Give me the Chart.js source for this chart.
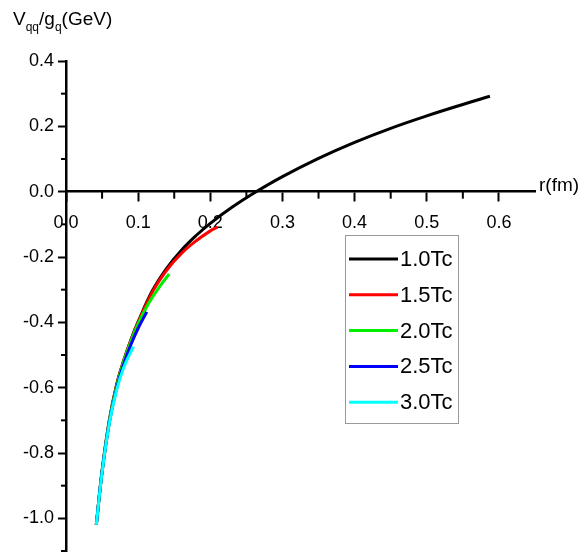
<!DOCTYPE html>
<html>
<head>
<meta charset="utf-8">
<script src="https://cdn.jsdelivr.net/npm/chart.js@4.4.1/dist/chart.umd.min.js"></script>
<style>
  body { margin: 0; background: #fff; }
  #wrap { position: relative; width: 583px; height: 552px; font-family: 'Liberation Sans', Arial, sans-serif; }
  #myChart { display: block; }
  .lbl { position: absolute; color: #000; white-space: nowrap; line-height: 1; }
  .lbl sub { font-size: 12px; vertical-align: -6px; line-height: 0; }
</style>
</head>
<body>
<div id="wrap">
  <canvas id="myChart" width="583" height="552"></canvas>
  <div class="lbl" style="left:13px;top:9px;font-size:19px;">V<sub>qq</sub>/g<sub>q</sub>(GeV)</div>
  <div class="lbl" style="left:539px;top:175px;font-size:19px;">r(fm)</div>
</div>
<script>
// potential curves V(r) for each temperature (r in fm, V in GeV)
const seriesLabels = ['1.0Tc', '1.5Tc', '2.0Tc', '2.5Tc', '3.0Tc'];
const seriesColors = ['#000000', '#ff0000', '#00ee00', '#0000ff', '#00ffff'];

const r10 = [0.042, 0.05, 0.06, 0.07, 0.08, 0.09, 0.10, 0.12, 0.14, 0.16, 0.18, 0.20, 0.23, 0.26, 0.30, 0.35, 0.40, 0.45, 0.50, 0.55, 0.5875];
const v10 = [-1.02, -0.855, -0.70, -0.592, -0.517, -0.453, -0.398, -0.302, -0.233, -0.179, -0.135, -0.097, -0.048, -0.005, 0.046, 0.102, 0.151, 0.194, 0.232, 0.267, 0.292];

const r15 = [0.042, 0.05, 0.06, 0.07, 0.08, 0.09, 0.10, 0.12, 0.14, 0.16, 0.18, 0.20, 0.21];
const v15 = [-1.02, -0.856, -0.702, -0.595, -0.518, -0.455, -0.40, -0.306, -0.239, -0.189, -0.151, -0.12, -0.108];

const r20 = [0.042, 0.05, 0.06, 0.07, 0.08, 0.09, 0.10, 0.115, 0.13, 0.143];
const v20 = [-1.02, -0.857, -0.704, -0.598, -0.52, -0.458, -0.404, -0.34, -0.29, -0.252];

const r25 = [0.042, 0.05, 0.06, 0.07, 0.08, 0.09, 0.10, 0.112];
const v25 = [-1.02, -0.858, -0.708, -0.604, -0.528, -0.468, -0.418, -0.368];

const r30 = [0.042, 0.05, 0.06, 0.07, 0.08, 0.0935];
const v30 = [-1.02, -0.86, -0.71, -0.608, -0.538, -0.474];

// tick positions
const xMajorTicks = [0, 0.1, 0.2, 0.3, 0.4, 0.5, 0.6];
const xMinorTicks = [0.05, 0.15, 0.25, 0.35, 0.45, 0.55];
const yMajorTicks = [-1.0, -0.8, -0.6, -0.4, -0.2, 0, 0.2, 0.4];
const yMinorTicks = [-1.1, -0.9, -0.7, -0.5, -0.3, -0.1, 0.1, 0.3];

function toPoints(rs, vs) {
    return rs.map((r, i) => ({ x: r, y: vs[i] }));
}

const allR = [r10, r15, r20, r25, r30];
const allV = [v10, v15, v20, v25, v30];

const datasets = seriesLabels.map((label, i) => ({
    label: label,
    data: toPoints(allR[i], allV[i]),
    borderColor: seriesColors[i],
    backgroundColor: seriesColors[i],
    borderWidth: 3,
    pointRadius: 0,
    fill: false,
    tension: 0.4,
    order: seriesLabels.length - i   // later series on top
}));

// minor ticks + boxed legend
const extras = {
    id: 'extras',
    afterDraw(chart) {
        const ctx = chart.ctx;
        const xs = chart.scales.x, ys = chart.scales.y;
        const y0 = ys.getPixelForValue(0);
        ctx.save();
        ctx.strokeStyle = '#000';
        ctx.lineWidth = 2;
        xMinorTicks.forEach(v => {
            const px = xs.getPixelForValue(v);
            ctx.beginPath(); ctx.moveTo(px, y0); ctx.lineTo(px, y0 + 7); ctx.stroke();
        });
        yMinorTicks.forEach(v => {
            const py = ys.getPixelForValue(v);
            ctx.beginPath(); ctx.moveTo(chart.chartArea.left, py); ctx.lineTo(chart.chartArea.left - 5, py); ctx.stroke();
        });

        // legend box
        const bx = 345, by = 235, bw = 113, bh = 188;
        ctx.fillStyle = '#fff';
        ctx.fillRect(bx, by, bw, bh);
        ctx.strokeStyle = '#9a9a9a';
        ctx.lineWidth = 1;
        ctx.strokeRect(bx + 0.5, by + 0.5, bw, bh);
        ctx.font = "22px 'Liberation Sans', Arial, sans-serif";
        ctx.textBaseline = 'middle';
        ctx.textAlign = 'left';
        chart.data.datasets.forEach((ds, i) => {
            const ry = 259 + i * 35.8;
            ctx.strokeStyle = ds.borderColor;
            ctx.lineWidth = 3;
            ctx.beginPath(); ctx.moveTo(349, ry); ctx.lineTo(398, ry); ctx.stroke();
            ctx.fillStyle = '#000';
            ctx.fillText(ds.label, 400, ry + 1);
        });
        ctx.restore();
    }
};

const ctx = document.getElementById('myChart').getContext('2d');
const myChart = new Chart(ctx, {
    type: 'line',
    data: { datasets: datasets },
    plugins: [extras],
    options: {
        responsive: false,
        animation: false,
        devicePixelRatio: 1,
        layout: { padding: { top: 61, right: 48, left: 0, bottom: 0 } },
        plugins: {
            legend: { display: false },
            tooltip: { enabled: false }
        },
        scales: {
            x: {
                type: 'linear',
                position: { y: 0 },
                min: 0,
                max: 0.65,
                afterBuildTicks: s => { s.ticks = xMajorTicks.map(v => ({ value: v })); },
                afterFit: s => { s.height = 0; s.paddingLeft = 0; s.paddingRight = 0; },
                ticks: {
                    callback: v => v.toFixed(1),
                    font: { size: 18, family: "'Liberation Sans', Arial, sans-serif" },
                    color: '#000',
                    padding: 12,
                    maxRotation: 0,
                    autoSkip: false
                },
                grid: { drawOnChartArea: false, tickLength: 9, tickColor: '#000', tickWidth: 2 },
                border: { color: '#000', width: 2.5 }
            },
            y: {
                type: 'linear',
                position: 'left',
                min: -1.103,
                max: 0.4,
                afterBuildTicks: s => { s.ticks = yMajorTicks.map(v => ({ value: v })); },
                afterFit: s => { s.width = 66; s.paddingTop = 0; s.paddingBottom = 0; },
                ticks: {
                    callback: v => v.toFixed(1),
                    font: { size: 18, family: "'Liberation Sans', Arial, sans-serif" },
                    color: '#000',
                    padding: 4,
                    autoSkip: false
                },
                grid: { drawOnChartArea: false, tickLength: 8, tickColor: '#000', tickWidth: 2 },
                border: { color: '#000', width: 2.5 }
            }
        }
    }
});
</script>
</body>
</html>
